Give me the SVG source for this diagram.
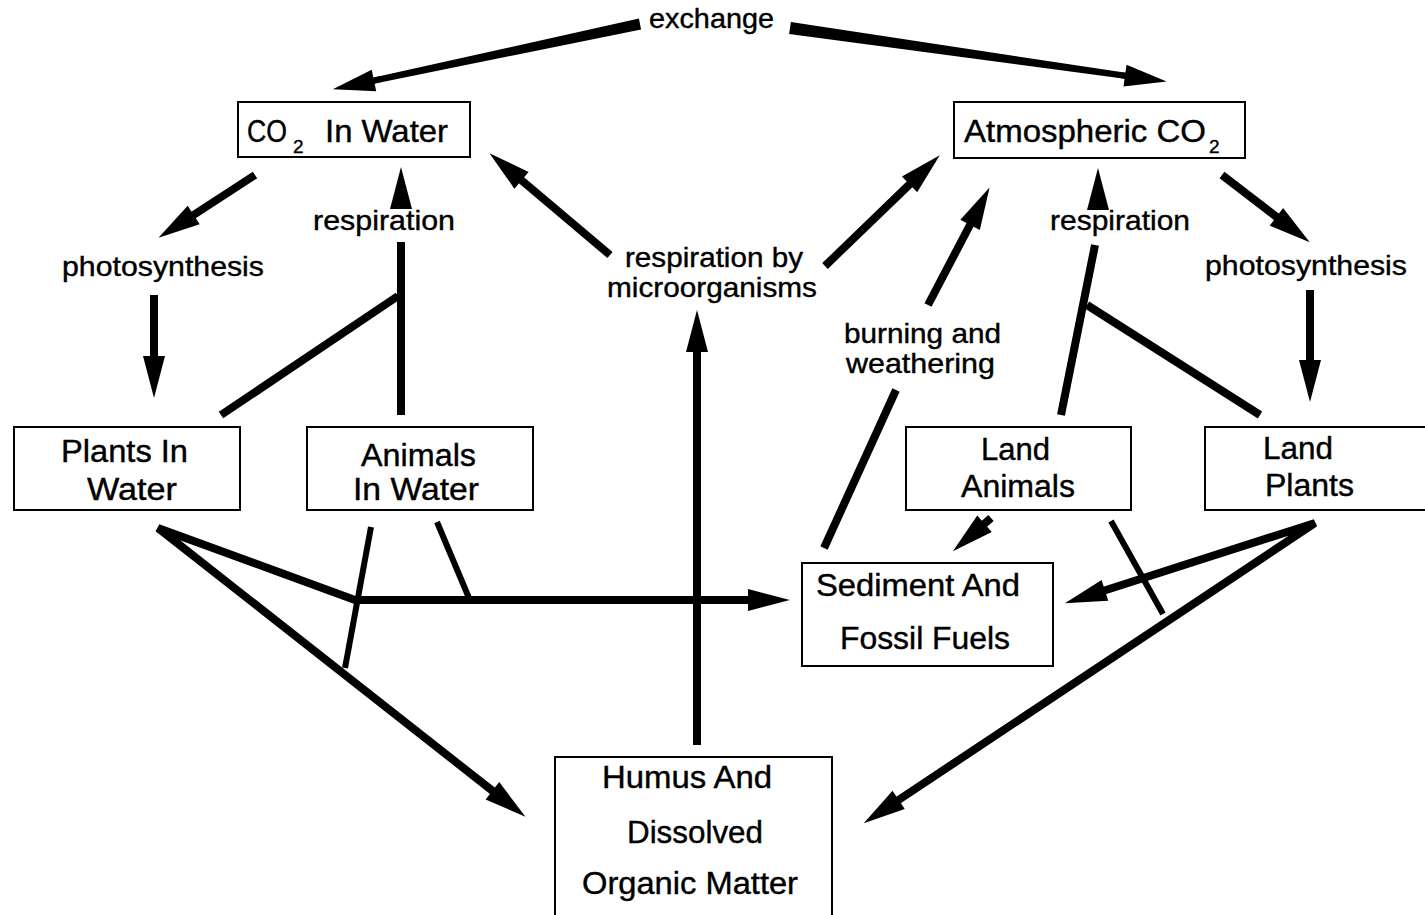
<svg xmlns="http://www.w3.org/2000/svg" width="1425" height="915" viewBox="0 0 1425 915">
<style>
.box{fill:#fff;stroke:#000;stroke-width:2}
.nt{font-family:"Liberation Sans",Arial,sans-serif;font-size:31px;fill:#000;stroke:#000;stroke-width:0.4}
.lb{font-family:"Liberation Sans",Arial,sans-serif;font-size:28px;fill:#000;stroke:#000;stroke-width:0.4}
.c{fill:none;stroke:#000;stroke-width:8;stroke-linecap:butt}
.a{marker-end:url(#ah)}
.thin{stroke-width:6}
.w{fill:#000}
</style>
<defs>
<marker id="ah" markerUnits="userSpaceOnUse" markerWidth="44" markerHeight="24" refX="2" refY="11" orient="auto-start-reverse" overflow="visible">
<path d="M0,0 L42,11 L0,22 Z" fill="#000"/>
</marker>
</defs>
<rect width="1425" height="915" fill="#fff"/>
<g id="connectors">
<polygon class="w" points="638.9,18.6 641.1,29.4 372.6,83.9 371.4,78.1"/>
<path class="c a" style="stroke-width:6" d="M382,78.9 L372,81"/>
<polygon class="w" points="790.9,22.1 1127.4,73.0 1126.6,79.0 789.1,33.9"/>
<path class="c a" style="stroke-width:6" d="M1117,74.6 L1127,76"/>
<path class="c a" d="M255,175 L192,216"/>
<path class="c a" d="M154,295 L154,358"/>
<path class="c" d="M401,415 L401,242"/>
<path class="c a" d="M401,209 L401,207"/>
<path class="c" d="M221,415 L398,296"/>
<path class="c a" d="M610,255 L520,179"/>
<path class="c a" d="M825,266 L911,183"/>
<path class="c a" d="M697,745 L697,350"/>
<path class="c" d="M824,548 L896,390"/>
<path class="c a" d="M928,305 L971,223"/>
<path class="c" d="M1061,415 L1095,245"/>
<path class="c a" d="M1098,210 L1098,208"/>
<path class="c" d="M1260,415 L1087,305"/>
<path class="c a" d="M1222,175 L1278,218"/>
<path class="c a" d="M1310,290 L1310,362"/>
<path class="c a" d="M750,600 L355,600 L158,528 L494,792" style="marker-start:url(#ah)"/>
<path class="c thin" d="M371,527 L345,668"/>
<path class="c thin" d="M437,522 L469,598"/>
<path class="c a" d="M991,518 L983,525"/>
<path class="c a" d="M1103,591 L1315,523 L897,801" style="marker-start:url(#ah)"/>
<path class="c thin" d="M1111,521 L1163,614"/>
</g>
<g id="labels">
<text class="lb" x="649" y="28" textLength="125" lengthAdjust="spacingAndGlyphs">exchange</text>
<text class="lb" x="313" y="230" textLength="142" lengthAdjust="spacingAndGlyphs">respiration</text>
<text class="lb" x="62" y="276" textLength="202" lengthAdjust="spacingAndGlyphs">photosynthesis</text>
<text class="lb" x="625" y="267" textLength="178" lengthAdjust="spacingAndGlyphs">respiration by</text>
<text class="lb" x="607" y="297" textLength="210" lengthAdjust="spacingAndGlyphs">microorganisms</text>
<text class="lb" x="1050" y="230" textLength="140" lengthAdjust="spacingAndGlyphs">respiration</text>
<text class="lb" x="1205" y="275" textLength="202" lengthAdjust="spacingAndGlyphs">photosynthesis</text>
<text class="lb" x="844" y="343" textLength="157" lengthAdjust="spacingAndGlyphs">burning and</text>
<text class="lb" x="846" y="373" textLength="149" lengthAdjust="spacingAndGlyphs">weathering</text>
</g>
<g id="co2-water">
<rect class="box" x="238" y="102" width="232" height="55"/>
<text class="nt" x="247" y="142" textLength="40" lengthAdjust="spacingAndGlyphs" style="font-size:32px">CO</text>
<text class="nt" x="293" y="153" style="font-size:19px">2</text>
<text class="nt" x="325" y="142" textLength="123" lengthAdjust="spacingAndGlyphs" style="font-size:32px">In Water</text>
</g>
<g id="atmospheric-co2">
<rect class="box" x="954" y="102" width="291" height="56"/>
<text class="nt" x="964" y="142" textLength="242" lengthAdjust="spacingAndGlyphs">Atmospheric CO</text>
<text class="nt" x="1209" y="153" style="font-size:19px">2</text>
</g>
<g id="plants-in-water">
<rect class="box" x="14" y="427" width="226" height="83"/>
<text class="nt" x="61" y="462" textLength="127" lengthAdjust="spacingAndGlyphs">Plants In</text>
<text class="nt" x="87" y="500" textLength="90" lengthAdjust="spacingAndGlyphs">Water</text>
</g>
<g id="animals-in-water">
<rect class="box" x="307" y="427" width="226" height="83"/>
<text class="nt" x="361" y="466" textLength="115" lengthAdjust="spacingAndGlyphs">Animals</text>
<text class="nt" x="353" y="500" textLength="126" lengthAdjust="spacingAndGlyphs">In Water</text>
</g>
<g id="land-animals">
<rect class="box" x="906" y="427" width="225" height="83"/>
<text class="nt" x="981" y="460" textLength="69" lengthAdjust="spacingAndGlyphs">Land</text>
<text class="nt" x="961" y="497" textLength="114" lengthAdjust="spacingAndGlyphs">Animals</text>
</g>
<g id="land-plants">
<rect class="box" x="1205" y="427" width="230" height="83"/>
<text class="nt" x="1263" y="459" textLength="70" lengthAdjust="spacingAndGlyphs">Land</text>
<text class="nt" x="1265" y="496" textLength="89" lengthAdjust="spacingAndGlyphs">Plants</text>
</g>
<g id="sediment">
<rect class="box" x="802" y="563" width="251" height="103"/>
<text class="nt" x="816" y="596" textLength="204" lengthAdjust="spacingAndGlyphs">Sediment And</text>
<text class="nt" x="840" y="649" textLength="170" lengthAdjust="spacingAndGlyphs">Fossil Fuels</text>
</g>
<g id="humus">
<rect class="box" x="555" y="757" width="277" height="170"/>
<text class="nt" x="602" y="788" textLength="170" lengthAdjust="spacingAndGlyphs">Humus And</text>
<text class="nt" x="627" y="843" textLength="136" lengthAdjust="spacingAndGlyphs">Dissolved</text>
<text class="nt" x="582" y="894" textLength="216" lengthAdjust="spacingAndGlyphs">Organic Matter</text>
</g>
</svg>
